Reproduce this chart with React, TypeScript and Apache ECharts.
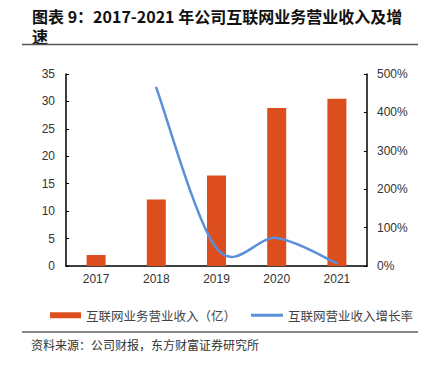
import React, { useEffect, useRef } from "react";
import * as echarts from "echarts";

const categories = ["2017", "2018", "2019", "2020", "2021"];
const revenue = [2.0, 12.1, 16.5, 28.8, 30.5];
const growth: (number | null)[] = [null, 464, 46, 73, 7];
const leftTicks = [0, 35, 5];
const rightTicks = [0, 500, 100];
const barName = "互联网业务营业收入（亿）";
const lineName = "互联网营业收入增长率";
const titleLines = ["图表 9：2017-2021 年公司互联网业务营业收入及增", "速"];
const sourceText = "资料来源：公司财报，东方财富证券研究所";

export default function App() {
  const ref = useRef<HTMLDivElement>(null);
  useEffect(() => {
    const chart = echarts.init(ref.current!, null, { renderer: "svg" });
    const labelFont = "'Liberation Sans', Arial, sans-serif";
    const cjk = "'Noto Sans CJK SC', sans-serif";
    const legendText = { color: "#444", fontSize: 12.5, fontFamily: cjk };
    const growthPts: [number, number][] = [];
    growth.forEach((v, i) => {
      if (v !== null) growthPts.push([i, v]);
    });
    const n = growthPts.length;
    const renderItem = (params: any, api: any) => {
      const i = params.dataIndexInside;
      if (i >= n - 1) return { type: "group", children: [] };
      const P = (j: number) => api.coord([api.value(0, j), api.value(1, j)]);
      const p0 = P(Math.max(i - 1, 0));
      const p1 = P(i);
      const p2 = P(i + 1);
      const p3 = P(Math.min(i + 2, n - 1));
      return {
        type: "bezierCurve",
        shape: {
          x1: p1[0],
          y1: p1[1],
          cpx1: p1[0] + (p2[0] - p0[0]) / 6,
          cpy1: p1[1] + (p2[1] - p0[1]) / 6,
          cpx2: p2[0] - (p3[0] - p1[0]) / 6,
          cpy2: p2[1] - (p3[1] - p1[1]) / 6,
          x2: p2[0],
          y2: p2[1],
        },
        style: { stroke: "#5b8fd9", lineWidth: 2.5, fill: "none", lineCap: "round" },
      };
    };
    chart.setOption({
      animation: false,
      backgroundColor: "#ffffff",
      grid: { left: 66, right: 60, top: 74, bottom: 102 },
      xAxis: {
        type: "category",
        data: categories,
        axisLine: { lineStyle: { color: "#000", width: 1.5 } },
        axisTick: { show: false },
        axisLabel: { color: "#333", fontSize: 12, fontFamily: labelFont, margin: 7 },
      },
      yAxis: [
        {
          type: "value",
          min: leftTicks[0],
          max: leftTicks[1],
          interval: leftTicks[2],
          axisLine: { show: true, lineStyle: { color: "#000", width: 1.5 } },
          axisTick: { show: true, inside: true, length: 3, lineStyle: { color: "#000" } },
          splitLine: { show: false },
          axisLabel: { color: "#333", fontSize: 12, fontFamily: labelFont, margin: 11 },
        },
        {
          type: "value",
          min: rightTicks[0],
          max: rightTicks[1],
          interval: rightTicks[2],
          position: "right",
          axisLine: { show: true, lineStyle: { color: "#000", width: 1.5 } },
          axisTick: { show: true, inside: true, length: 3, lineStyle: { color: "#000" } },
          splitLine: { show: false },
          axisLabel: {
            color: "#333",
            fontSize: 12,
            fontFamily: labelFont,
            margin: 10,
            formatter: "{value}%",
          },
        },
      ],
      legend: [
        {
          left: 45,
          top: 304,
          itemWidth: 31,
          itemHeight: 6,
          textStyle: legendText,
          data: [{ name: barName, icon: "rect" }],
        },
        {
          left: 246,
          top: 304,
          itemWidth: 32,
          itemHeight: 3,
          textStyle: legendText,
          data: [{ name: lineName, icon: "rect", itemStyle: { color: "#5b8fd9" } }],
        },
      ],
      series: [
        {
          name: barName,
          type: "bar",
          data: revenue,
          barWidth: 19,
          itemStyle: { color: "#dd4e1e" },
        },
        {
          name: lineName,
          type: "custom",
          yAxisIndex: 1,
          data: growthPts,
          renderItem,
          itemStyle: { color: "#5b8fd9" },
          z: 3,
        },
      ],
      graphic: [
        {
          type: "text",
          left: 32,
          top: 8,
          style: {
            text: titleLines[0],
            font: `bold 16px ${cjk}`,
            fill: "#111",
          },
        },
        {
          type: "text",
          left: 32,
          top: 28,
          style: {
            text: titleLines[1],
            font: `bold 16px ${cjk}`,
            fill: "#111",
          },
        },
        {
          type: "line",
          shape: { x1: 22, y1: 44.5, x2: 418, y2: 44.5 },
          style: { stroke: "#555", lineWidth: 1.5 },
        },
        {
          type: "line",
          shape: { x1: 22, y1: 332, x2: 418, y2: 332 },
          style: { stroke: "#888", lineWidth: 2 },
        },
        {
          type: "text",
          left: 31,
          top: 338,
          style: { text: sourceText, font: `12px ${cjk}`, fill: "#333" },
        },
      ],
    });
    return () => chart.dispose();
  }, []);
  return <div ref={ref} style={{ width: 427, height: 368, position: "absolute", left: 0, top: 0 }} />;
}
